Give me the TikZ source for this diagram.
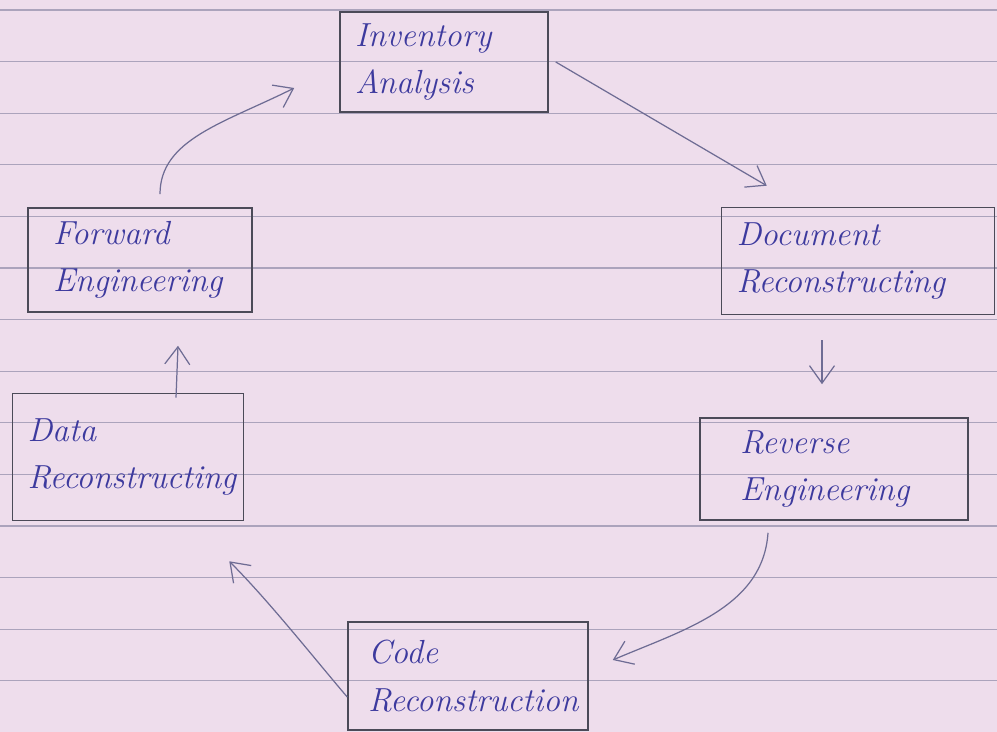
\documentclass[tikz,border=0pt]{standalone}
\usepackage{tikz}
\usetikzlibrary{calc,arrows.meta}
\definecolor{paper}{HTML}{EEDDEC}
\definecolor{ruling}{HTML}{ABA3BC}
\definecolor{ink}{HTML}{3D3A9E}
\definecolor{pencil}{HTML}{4B4A58}
\definecolor{arrowink}{HTML}{6E6C94}

\begin{document}
\begin{tikzpicture}[x=0.02cm,y=-0.02cm,
    box/.style={draw=pencil,line width=0.9pt,inner xsep=0.3cm,inner ysep=0pt,
      font=\fontsize{19}{27}\selectfont\itshape,text=ink,align=left},
    flow/.style={draw=arrowink,line width=0.7pt,-{Straight Barb[length=3.5mm,width=5mm]}}]
    % paper
    \fill[paper] (0,0) rectangle (997,732);
    \useasboundingbox (0,0) rectangle (997,732);
    \foreach \k in {0,...,14}
      \draw[ruling,line width=0.6pt] (0,10+51.6*\k) -- (997,10+51.6*\k);
    % the six steps
    \node[box,text width=3.56cm,minimum height=2.0cm] (inv) at (444,62) {Inventory\\Analysis};
    \node[box,text width=4.86cm,minimum height=2.14cm] (doc) at (858,261) {Document\\Reconstructing};
    \node[box,inner xsep=0.8cm,text width=3.76cm,minimum height=2.04cm] (rev) at (834,469) {Reverse\\Engineering};
    \node[box,inner xsep=0.4cm,text width=4.0cm,minimum height=2.16cm] (code) at (468,676) {Code\\Reconstruction};
    \node[box,text width=4.02cm,minimum height=2.54cm] (data) at (128,457) {Data\\Reconstructing};
    \node[box,inner xsep=0.5cm,text width=3.48cm,minimum height=2.08cm] (fwd) at (140,260) {Forward\\Engineering};
    % cycle
    \draw[flow] ($(inv.east)+(7,0)$) -- ($(doc.north west)+(46,-21)$);
    \draw[flow] ($(doc.south)+(-36,25)$) -- ($(rev.north)+(-12,-33)$);
    \draw[flow] ($(rev.south)+(-66,12)$) .. controls +(-5,75) and +(70,-30) .. ($(code.east)+(24,-16)$);
    \draw[flow] ($(code.west)+(0,21)$) .. controls +(-30,-35) and +(40,40) .. ($(data.south east)+(-15,40)$);
    \draw[flow] ($(data.north)+(48,5)$) -- ($(fwd.south)+(38,33)$);
    \draw[flow] ($(fwd.north)+(20,-13)$) .. controls +(0,-55) and +(-70,35) .. ($(inv.west)+(-45,26)$);
\end{tikzpicture}
\end{document}
